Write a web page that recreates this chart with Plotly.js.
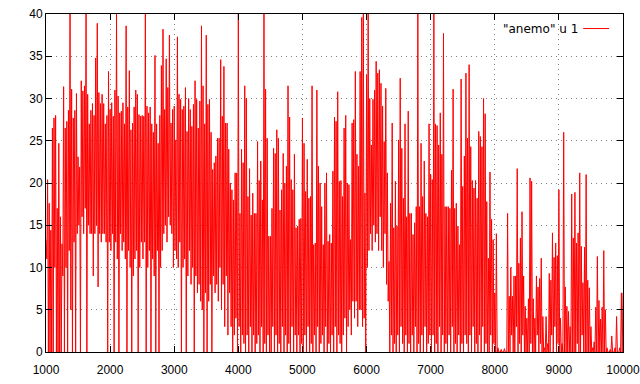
<!DOCTYPE html>
<html>
<head>
<meta charset="utf-8">
<script src="https://cdn.plot.ly/plotly-3.0.1.min.js"></script>
<style>html,body{margin:0;padding:0;background:#fff;}#chart{width:640px;height:384px;}</style>
</head>
<body>
<div id="chart"></div>
<script>
// "anemo" u 1 : values, one value every 12.5 samples from index 1000
const seriesName = '"anemo" u 1';
const startIndex = 1000;
const sampleStep = 12.5;
const anemo = [
 13.3,11,20.4,0,17.6,0,14.4,0,        // 1000
 26.5,0,27.7,10,28,0,17,0,            // 1100
 24.7,0,16,0,12.8,9,31.4,0,           // 1200
 26.5,10,27.3,0,28.6,12,40,5,         // 1300
 31.1,0,27.7,13,28.6,0,30.6,14,       // 1400
 23.1,15,21.9,0,32.1,16,30.9,14,      // 1500
 31.5,17,40,0,30.5,15,27,14,          // 1600
 28.6,14,29.4,9,28,14,34.8,15,        // 1700
 38.9,7.7,30.7,14,29.4,13,30.5,14,    // 1800
 29.4,14,27,13,28,0,33.2,13,          // 1900
 28.7,12,29.5,14,27.9,0,31,13,        // 2000
 40,11,30.3,0,28.3,14,28.5,12,        // 2100
 29.5,13,27,11,38.6,0,29,12,          // 2200
 33.3,10,26.3,0,27.1,9,29,11,         // 2300
 31,12,30.5,0,28.1,10,27.9,13,        // 2400
 28,11,27.9,13,40,0,29.1,10,          // 2500
 28.3,12,29,0,27,11,26,9,             // 2600
 35.1,0,27,12,24.7,0,28,10,           // 2700
 33.9,12,38.2,14,28.7,15,34.7,13,     // 2800
 31.3,16,37.5,15,27.1,14,28.7,10,     // 2900
 29.1,12,25.1,11,37.3,10,30.5,13,     // 3000
 29.9,0,28.7,10,29.1,11,31.3,0,       // 3100
 26.1,9,30,12,28.7,8,26.7,10,         // 3200
 29.3,0,32.1,9,29.9,7,26.5,8,         // 3300
 29.7,6,38.6,5,31.5,0,27,7,           // 3400
 37.5,0,29.3,6,29.9,8,26,0,           // 3500
 21.6,9,22.4,7,23.2,8,25.3,6,         // 3600
 25.3,10,34.6,5,27.9,8,33.8,3,        // 3700
 27.1,9,27.1,2,24,7,20,3,             // 3800
 19.2,0,18,2,21.2,4,21.2,0,           // 3900
 40,3,16.4,0,24,2,22.4,1,             // 4000
 31.5,0,30,2,18.4,0,21.7,3,           // 4100
 16.2,0,18.8,2,16.4,0,16.4,1,         // 4200
 24.9,2,20.3,0,22.6,3,18,0,           // 4300
 40,1,31.1,0,25.3,2,13.7,0,           // 4400
 13.7,0,17,3,24.1,0,23.5,2,           // 4500
 26.3,0,25.3,1,16.8,0,19.2,3,         // 4600
 23.5,0,20,2,22,0,31.5,1,             // 4700
 27.8,0,20.4,3,19.2,0,23.4,2,         // 4800
 14.7,0,14.9,2,15.7,0,15.8,1,         // 4900
 27.7,0,24.7,2,19,0,22.8,3,           // 5000
 18.2,0,18.4,1,31.5,0,12.7,2,         // 5100
 12.9,0,31,3,22,0,20,1,               // 5200
 17.2,2,12.7,0,20,3,21.2,0,           // 5300
 13.1,1,13.9,0,12.9,2,21.4,0,         // 5400
 27.8,3,27.3,0,30.8,2,20.2,1,         // 5500
 20.3,0,18.4,2,26.5,4,28,0,           // 5600
 20,3,19.8,5,13.3,2,27.1,6,           // 5700
 27.5,4,33.2,6,23.4,3,22,5,           // 5800
 33.2,5,39.6,3,40,4,18.8,0,           // 5900
 32.8,10,40,12,30,14,24.5,12,         // 6000
 29.9,15,31,13,34.4,14,33,12,         // 6100
 33.4,16,31.8,12,29.1,10,24.9,14,     // 6200
 31.2,8,21.2,6,10.7,0,17.6,2,         // 6300
 27.1,0,14.7,1,20.2,0,14.9,2,         // 6400
 25.1,0,32.4,3,24.1,1,18.2,0,         // 6500
 27,2,16,0,28.5,1,16.4,0,             // 6600
 16.4,2,13.9,0,15.3,3,17.2,0,         // 6700
 40,1,17.2,0,24.7,2,18.4,0,           // 6800
 22.6,3,16.4,0,16,1,27,2,             // 6900
 21,0,20.4,2,40,0,27,1,               // 7000
 26.8,0,24.5,3,28.3,0,23.4,2,         // 7100
 37.7,0,17.2,1,17.2,0,17.2,2,         // 7200
 17,0,21.5,3,31.1,0,17,1,             // 7300
 17.6,0,14.9,2,12.7,0,32.3,1,         // 7400
 19.6,0,23.2,2,33,1,25.3,0,           // 7500
 34,2,24.3,0,20.3,3,19.4,0,           // 7600
 20.3,1,18.2,0,26.1,2,25.5,0,         // 7700
 24.3,3,30,0,28.2,1,17.8,0,           // 7800
 11.1,0,21.3,2,15.7,0,13.3,1,         // 7900
 7,0,14,0,0.5,0,0,0,                  // 8000
 0.3,0,0,0,0.4,0,0,0,                 // 8100
 16.4,0,6.6,0,10,2,6.6,0,             // 8200
 9,0,9,3,21.7,0,10.5,1,               // 8300
 13.5,0,16.6,2,9,0,5.4,0,             // 8400
 4,0,6.3,0,20.6,1,20.2,0,             // 8500
 6.3,0,4,0,9,2,7.7,0,                 // 8600
 8.7,1,11.1,0,4.2,0,0.5,0,            // 8700
 4.2,0,1,0,9.3,0,8.5,2,               // 8800
 14.1,0,11.2,3,12.9,0,11.4,1,         // 8900
 19.2,0,4,0,1,0,26,0,                 // 9000
 7.7,0,5.4,0,4.8,0,3,0,               // 9100
 18.7,0,13.5,0,18.9,0,12.9,1,         // 9200
 14.1,0,21.2,0,12.5,2,8.2,0,          // 9300
 12.4,0,21,0,8.5,0,7.6,0,             // 9400
 3,0,0.5,0,1.2,0,5.3,0,               // 9500
 11.3,0,6.1,0,3.9,0,5.3,0,            // 9600
 12,0,5,0,0.5,0,0,0,                  // 9700
 0.3,0,1.9,0,0,0,0.5,0,               // 9800
 4.2,0,0,0,0.5,0,7,0,                 // 9900
 7                                    // 10000
];
const xTicks = [1000,2000,3000,4000,5000,6000,7000,8000,9000,10000];
const yTicks = [0,5,10,15,20,25,30,35,40];

const font = {family: '"Liberation Sans", Arial, sans-serif', size: 12, color: '#000'};
const legendFont = {family: '"DejaVu Sans", "Liberation Sans", sans-serif', size: 12, color: '#000'};
const axisCommon = {
  showline: true, mirror: 'ticks', linecolor: '#000', linewidth: 1,
  ticks: 'inside', ticklen: 6, tickcolor: '#000', tickwidth: 1,
  showgrid: true, gridcolor: '#808080', gridwidth: 1, griddash: '1px,4px',
  zeroline: false, tickfont: font, fixedrange: true
};

const data = [{
  type: 'scatter', mode: 'lines', name: seriesName,
  y: anemo, x0: startIndex, dx: sampleStep,
  line: {color: '#ff0000', width: 1},
  showlegend: false
}];

const layout = {
  width: 640, height: 384,
  margin: {l: 46, r: 17, t: 14, b: 32},
  paper_bgcolor: '#fff', plot_bgcolor: '#fff',
  font: font,
  xaxis: Object.assign({}, axisCommon, {range: [1000, 10000], tickvals: xTicks, ticktext: xTicks.map(String), ticklabeloverflow: 'allow', ticklabelstandoff: 7}),
  yaxis: Object.assign({}, axisCommon, {range: [0, 40], tickvals: yTicks, ticktext: yTicks.map(String)}),
  annotations: [{
    xref: 'paper', yref: 'paper', x: 0.926, y: 0.957, xanchor: 'right', yanchor: 'middle',
    text: seriesName, showarrow: false, font: legendFont
  }],
  shapes: [{
    type: 'line', xref: 'paper', yref: 'paper', x0: 0.931, x1: 0.976, y0: 0.957, y1: 0.957,
    line: {color: '#ff0000', width: 1}
  }]
};

Plotly.newPlot('chart', data, layout, {staticPlot: true, displayModeBar: false});
</script>
</body>
</html>
